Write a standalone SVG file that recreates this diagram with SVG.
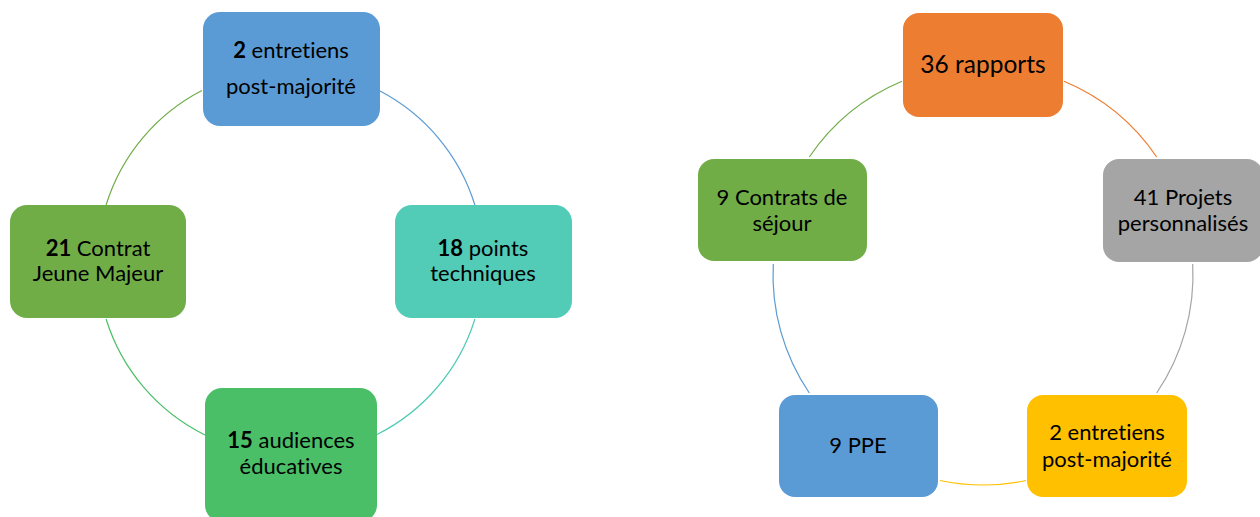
<svg xmlns="http://www.w3.org/2000/svg" width="1260" height="517" viewBox="0 0 1260 517">
<style>
text{font-family:Lato,"Open Sans","Liberation Sans",sans-serif;font-size:22px;fill:#000;text-anchor:middle;font-variant-ligatures:none;font-feature-settings:"liga" 0}
.big{font-size:24.5px}
.b{font-weight:bold}
.arc{fill:none;stroke-width:1.2}
</style>
<rect width="1260" height="517" fill="#fff"/>
<g id="connectors">
<path class="arc" stroke="#5B9BD5" d="M380,91 A193,193 0 0 1 474.9,205"/>
<path class="arc" stroke="#52CBB7" d="M474.9,319 A193,193 0 0 1 377,434.5"/>
<path class="arc" stroke="#4BBF67" d="M205,435 A193,193 0 0 1 106.1,319"/>
<path class="arc" stroke="#70AD47" d="M106.1,205 A193,193 0 0 1 202,90.5"/>
<path class="arc" stroke="#ED7D31" d="M1064,81.3 A210,210 0 0 1 1156.7,157"/>
<path class="arc" stroke="#A5A5A5" d="M1192.7,264 A210,210 0 0 1 1156.7,393"/>
<path class="arc" stroke="#FFC000" d="M1026,480.5 A210,210 0 0 1 940,480.5"/>
<path class="arc" stroke="#5B9BD5" d="M809.3,393 A210,210 0 0 1 773.3,264"/>
<path class="arc" stroke="#70AD47" d="M809.3,157 A210,210 0 0 1 902,81.3"/>
</g>
<g id="l-top">
<rect x="203" y="12" width="177" height="114" rx="17" fill="#5B9BD5"/>
<text x="291" y="58"><tspan class="b">2</tspan> entretiens</text>
<text x="291" y="94">post-majorité</text>
</g>
<g id="l-right">
<rect x="395" y="205" width="177" height="113" rx="17" fill="#52CBB7"/>
<text x="483" y="256"><tspan class="b">18</tspan> points</text>
<text x="483" y="281">techniques</text>
</g>
<g id="l-bottom">
<rect x="205" y="388" width="172" height="134" rx="17" fill="#4BBF67"/>
<text x="291" y="448"><tspan class="b">15</tspan> audiences</text>
<text x="291" y="474">éducatives</text>
</g>
<g id="l-left">
<rect x="10" y="205" width="176" height="113" rx="17" fill="#70AD47"/>
<text x="98" y="256"><tspan class="b">21</tspan> Contrat</text>
<text x="98" y="281">Jeune Majeur</text>
</g>
<g id="r-top">
<rect x="903" y="13" width="160" height="104" rx="16" fill="#ED7D31"/>
<text class="big" x="983" y="73">36 rapports</text>
</g>
<g id="r-right">
<rect x="1103" y="159" width="160" height="103" rx="16" fill="#A5A5A5"/>
<text x="1183" y="205">41 Projets</text>
<text x="1183" y="231">personnalisés</text>
</g>
<g id="r-bottom-right">
<rect x="1027" y="395" width="160" height="102" rx="16" fill="#FFC000"/>
<text x="1107" y="440">2 entretiens</text>
<text x="1107" y="467">post-majorité</text>
</g>
<g id="r-bottom-left">
<rect x="779" y="395" width="159" height="102" rx="16" fill="#5B9BD5"/>
<text x="858" y="453">9 PPE</text>
</g>
<g id="r-left">
<rect x="698" y="159" width="169" height="102" rx="16" fill="#70AD47"/>
<text x="782" y="205">9 Contrats de</text>
<text x="782" y="231">séjour</text>
</g>
</svg>
